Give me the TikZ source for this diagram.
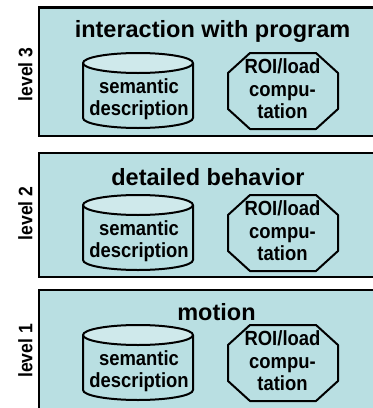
\documentclass[tikz,border=0pt]{standalone}
\usepackage{fontspec}
\setmainfont{Liberation Sans}
\newfontfamily\narrowsans[FakeStretch=0.9]{Liberation Sans}
\definecolor{panelfill}{HTML}{B9DFE2}
\definecolor{capfill}{HTML}{CFE9EB}
\begin{document}
\begin{tikzpicture}[x=1pt,y=-1pt,
  panel/.style={draw=black, line width=2.8pt, fill=panelfill},
  shapeline/.style={draw=black, line width=2pt, line join=round},
  titletext/.style={font=\fontsize{23.5}{26}\selectfont\bfseries, anchor=base, inner sep=0pt},
  innertext/.style={font=\narrowsans\fontsize{20.5}{22}\selectfont\bfseries, align=center, inner sep=0pt},
  leveltext/.style={font=\narrowsans\fontsize{19.5}{20}\selectfont\bfseries, rotate=90, inner sep=0pt}]
\useasboundingbox (0,0) rectangle (373,408);
\clip (0,0) rectangle (373,408);
\foreach \lv/\ptop/\pbot/\tx/\tb/\ttl/\sy/\ly in {3/7.5/136/212.5/37/interaction with program/53/74.5, 2/153/277/208/185/detailed behavior/195/213.5, 1/290/409/216.5/320/motion/325/351}{
  \draw[panel] (39,\ptop) rectangle (385,\pbot);
  \node[titletext] (title\lv) at (\tx,\tb) {\ttl};
  \node[leveltext] (level\lv) at (25.5,\ly) {level \lv};
  % cylinder
  \path[shapeline, fill=panelfill] (83,\sy+10) -- (83,\sy+65)
     arc[start angle=180, end angle=360, x radius=55pt, y radius=10pt] -- (193,\sy+10);
  \path[shapeline, fill=capfill] (138,\sy+10) ellipse [x radius=55pt, y radius=10pt];
  \node[innertext] (sem\lv) at (139,\sy+46) {semantic\\description};
  % octagon
  \path[shapeline, fill=panelfill] (250,\sy) -- (316,\sy) -- (338,\sy+20) -- (338,\sy+56)
     -- (316,\sy+76) -- (250,\sy+76) -- (228,\sy+56) -- (228,\sy+20) -- cycle;
  \node[innertext, font=\narrowsans\fontsize{20.5}{22.5}\selectfont\bfseries] (roi\lv) at (282.5,\sy+36) {ROI/load\\compu-\\tation};
}
\end{tikzpicture}
\end{document}
